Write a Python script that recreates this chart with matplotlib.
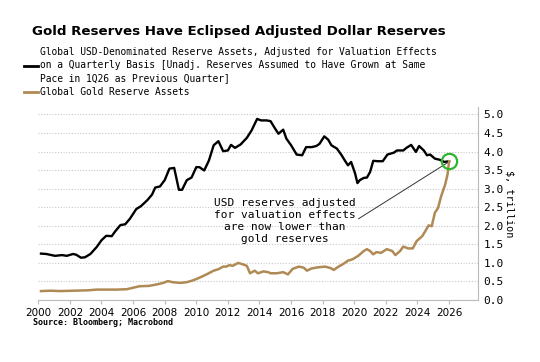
import matplotlib
matplotlib.use('Agg')
import matplotlib.pyplot as plt
from matplotlib.lines import Line2D

# USD reserves adjusted for valuation effects ($ trillion)
usd_year = [2000.17, 2000.5, 2001.06, 2001.5, 2001.8, 2002.2, 2002.4, 2002.7, 2002.95, 2003.3,
            2003.7, 2004.0, 2004.3, 2004.65, 2004.85, 2005.2, 2005.5, 2005.8, 2006.2, 2006.5,
            2006.9, 2007.2, 2007.4, 2007.7, 2008.0, 2008.3, 2008.6, 2008.9, 2009.1, 2009.4,
            2009.7, 2010.0, 2010.2, 2010.5, 2010.8, 2011.1, 2011.4, 2011.7, 2012.0, 2012.2,
            2012.45, 2012.8, 2013.2, 2013.5, 2013.85, 2014.1, 2014.45, 2014.7, 2015.0, 2015.2,
            2015.5, 2015.7, 2016.0, 2016.35, 2016.7, 2016.95, 2017.3, 2017.6, 2017.8, 2018.1,
            2018.35, 2018.55, 2018.9, 2019.2, 2019.4, 2019.6, 2019.8, 2020.05, 2020.2, 2020.35,
            2020.6, 2020.8, 2021.0, 2021.2, 2021.5, 2021.8, 2022.1, 2022.5, 2022.7, 2023.1,
            2023.3, 2023.6, 2023.9, 2024.1, 2024.4, 2024.6, 2024.8, 2025.1, 2025.4, 2025.7,
            2026.0]
usd_val = [1.25, 1.24, 1.19, 1.21, 1.19, 1.24, 1.22, 1.14, 1.15, 1.24,
           1.43, 1.61, 1.73, 1.72, 1.84, 2.02, 2.04, 2.19, 2.45, 2.53,
           2.69, 2.84, 3.03, 3.06, 3.23, 3.54, 3.56, 2.97, 2.97, 3.23,
           3.30, 3.58, 3.58, 3.49, 3.76, 4.17, 4.28, 4.01, 4.03, 4.18,
           4.10, 4.19, 4.37, 4.57, 4.88, 4.84, 4.84, 4.82, 4.61, 4.48,
           4.59, 4.35, 4.17, 3.92, 3.90, 4.12, 4.12, 4.15, 4.21, 4.41,
           4.32, 4.17, 4.08, 3.90, 3.76, 3.63, 3.72, 3.41, 3.15, 3.23,
           3.29, 3.30, 3.45, 3.75, 3.74, 3.74, 3.92, 3.97, 4.03, 4.03,
           4.10, 4.18, 3.99, 4.15, 4.03, 3.90, 3.92, 3.81, 3.78, 3.72,
           3.74]

# Global gold reserve assets ($ trillion)
gold_year = [2000.17, 2000.75, 2001.4, 2002.2, 2003.1, 2003.7, 2004.3, 2004.96, 2005.6, 2006.0,
             2006.4, 2007.0, 2007.5, 2007.9, 2008.2, 2008.5, 2009.0, 2009.4, 2009.8, 2010.2,
             2010.65, 2011.1, 2011.4, 2011.7, 2011.9, 2012.1, 2012.3, 2012.65, 2012.95, 2013.2,
             2013.4, 2013.7, 2013.9, 2014.25, 2014.55, 2014.7, 2015.1, 2015.5, 2015.8, 2016.1,
             2016.5, 2016.8, 2017.0, 2017.3, 2017.7, 2018.15, 2018.5, 2018.7, 2019.0, 2019.3,
             2019.6, 2019.9, 2020.25, 2020.6, 2020.8, 2021.0, 2021.2, 2021.4, 2021.7, 2022.05,
             2022.4, 2022.6, 2022.9, 2023.1, 2023.4, 2023.7, 2023.95, 2024.3, 2024.5, 2024.7,
             2024.9, 2025.1, 2025.3, 2025.5, 2025.75, 2025.9, 2026.0]
gold_val = [0.24, 0.25, 0.24, 0.25, 0.26, 0.28, 0.28, 0.28, 0.29, 0.33,
            0.37, 0.38, 0.42, 0.46, 0.51, 0.48, 0.46, 0.48, 0.53, 0.60,
            0.69, 0.79, 0.83, 0.90, 0.90, 0.94, 0.92, 1.00, 0.96, 0.92,
            0.72, 0.79, 0.72, 0.77, 0.75, 0.72, 0.72, 0.75, 0.69, 0.84,
            0.90, 0.87, 0.79, 0.85, 0.88, 0.90, 0.86, 0.81, 0.90, 0.97,
            1.06, 1.10, 1.19, 1.32, 1.37, 1.32, 1.23, 1.29, 1.27, 1.37,
            1.32, 1.21, 1.32, 1.44, 1.39, 1.39, 1.59, 1.72, 1.86, 2.01,
            1.99, 2.35, 2.48, 2.80, 3.11, 3.38, 3.74]

x_ticks = list(range(2000, 2027, 2))
y_ticks = [0.0, 0.5, 1.0, 1.5, 2.0, 2.5, 3.0, 3.5, 4.0, 4.5, 5.0]

usd_label = ('Global USD-Denominated Reserve Assets, Adjusted for Valuation Effects\n'
             'on a Quarterly Basis [Unadj. Reserves Assumed to Have Grown at Same\n'
             'Pace in 1Q26 as Previous Quarter]')
gold_label = 'Global Gold Reserve Assets'

GOLD = '#B08A55'
MONO = 'DejaVu Sans Mono'

fig = plt.figure(figsize=(5.4, 3.62), dpi=100)
ax = fig.add_axes([0.0709, 0.1713, 0.8143, 0.533])

ax.plot(usd_year, usd_val, color='black', lw=1.7, solid_joinstyle='round', zorder=3)
ax.plot(gold_year, gold_val, color=GOLD, lw=1.8, solid_joinstyle='round', zorder=3)

ax.set_xlim(2000, 2027.83)
ax.set_ylim(0, 5.2)
ax.set_xticks(x_ticks)
ax.set_yticks(y_ticks)
ax.set_yticklabels([f'{v:.1f}' for v in y_ticks], family=MONO, fontsize=8)
ax.set_xticklabels([str(t) for t in x_ticks], fontsize=7.5)
ax.yaxis.tick_right()
ax.yaxis.set_label_position('right')
ax.set_ylabel('$, trillion', family=MONO, fontsize=7.3, rotation=270, labelpad=8)
ax.tick_params(axis='y', length=0, pad=4)
ax.tick_params(axis='x', length=3, color='#bbbbbb', pad=3)

ax.grid(axis='y', color='#c8c8c8', ls=(0, (1, 1.5)), lw=0.8)
for s in ['top', 'left']:
    ax.spines[s].set_visible(False)
for s in ['bottom', 'right']:
    ax.spines[s].set_color('#bbbbbb')
    ax.spines[s].set_linewidth(0.8)

# highlight where the two lines meet
ax.plot([usd_year[-1]], [usd_val[-1]], 'o', ms=11, mfc='none', mec='#2DB52D', mew=1.6, zorder=4)
ax.annotate('USD reserves adjusted\nfor valuation effects\nare now lower than\ngold reserves',
            xy=(2025.9, 3.70), xytext=(2015.6, 2.14), ha='center', va='center',
            family=MONO, fontsize=8, linespacing=1.25,
            arrowprops=dict(arrowstyle='-', color='#333333', lw=0.7,
                            shrinkA=0, shrinkB=0, relpos=(1.0, 0.5)))

fig.text(0.059, 0.912, 'Gold Reserves Have Eclipsed Adjusted Dollar Reserves',
         fontsize=9.6, fontweight='bold', va='center')

handles = [Line2D([], [], color='black', lw=2), Line2D([], [], color=GOLD, lw=2)]
leg = fig.legend(handles, [usd_label, gold_label], loc='upper left',
                 bbox_to_anchor=(0.045, 0.87), frameon=False,
                 prop={'family': MONO, 'size': 6.9}, handlelength=1.4,
                 handletextpad=0.25, labelspacing=0.45, borderpad=0, borderaxespad=0)
leg.get_texts()[0].set_linespacing(1.35)

fig.text(0.061, 0.108, 'Source: Bloomberg; Macrobond', family=MONO,
         fontsize=6, fontweight='bold', va='center')

fig.savefig('out.png', dpi=100)
